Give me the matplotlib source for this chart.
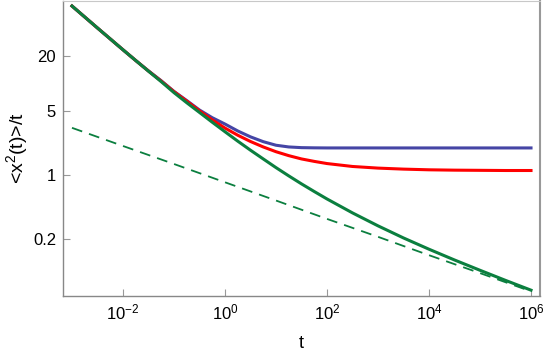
import numpy as np
import matplotlib
matplotlib.use("Agg")
import matplotlib.pyplot as plt
from matplotlib.ticker import FixedLocator, NullLocator, FixedFormatter

plt.rcParams['font.family'] = ['Liberation Sans', 'DejaVu Sans']
plt.rcParams['mathtext.fontset'] = 'custom'
plt.rcParams['mathtext.rm'] = 'Liberation Sans'
plt.rcParams['mathtext.it'] = 'Liberation Sans:italic'

# time points (log10 t)
log_t = [-3, -2.5, -2, -1.75, -1.5, -1.25, -1, -0.75, -0.5, -0.25, 0, 0.25, 0.5,
         0.75, 1, 1.25, 1.5, 1.75, 2, 2.5, 3, 3.5, 4, 4.5, 5, 5.5, 6]

green = [71.3, 40.9, 23.6, 18.0, 13.75, 10.55, 8.0, 6.2, 4.85, 3.79, 2.98, 2.35, 1.87,
         1.50, 1.205, 0.978, 0.799, 0.659, 0.546, 0.384, 0.277, 0.204, 0.1535, 0.117,
         0.0902, 0.0699, 0.0546]
red = [71.3, 40.9, 23.6, 18.0, 13.8, 10.7, 8.2, 6.45, 5.05, 4.02, 3.27, 2.73, 2.33,
       2.03, 1.80, 1.63, 1.50, 1.41, 1.335, 1.24, 1.19, 1.16, 1.14, 1.13, 1.125, 1.12, 1.12]
blue = [71.3, 40.9, 23.6, 18.0, 13.85, 10.8, 8.25, 6.55, 5.16, 4.25, 3.62, 3.04, 2.62,
        2.32, 2.12, 2.03, 1.995, 1.985, 1.98, 1.98, 1.98, 1.98, 1.98, 1.98, 1.98, 1.98, 1.98]

# asymptote (dashed)
log_t_dash = [-3, -2, -1, 0, 1, 2, 3, 4, 5, 6]
dashed = [3.29, 2.08, 1.32, 0.832, 0.525, 0.33, 0.21, 0.132, 0.084, 0.053]

x_ticks = [1e-2, 1e0, 1e2, 1e4, 1e6]
x_labels = [r"$10^{-2}$", r"$10^{0}$", r"$10^{2}$", r"$10^{4}$", r"$10^{6}$"]
y_ticks = [0.2, 1, 5, 20]
y_labels = ["0.2", "1", "5", "20"]

t = 10.0 ** np.array(log_t)
t_dash = 10.0 ** np.array(log_t_dash)

fig = plt.figure(figsize=(5.45, 3.54), dpi=100)
ax = fig.add_axes([0.1156, 0.1638, 0.8752, 0.8334])

c_green = "#0b7f3f"
c_blue = "#4545a5"
c_red = "#ff0000"

ax.plot(t, blue, color=c_blue, lw=2.2, solid_joinstyle="round")
ax.plot(t, red, color=c_red, lw=2.2, solid_joinstyle="round")
ax.plot(t_dash, dashed, color=c_green, lw=1.3, dashes=(6, 4))
ax.plot(t, green, color=c_green, lw=2.2, solid_joinstyle="round")

ax.set_xscale("log")
ax.set_yscale("log")
ax.set_xlim(10 ** -3.176, 10 ** 6.176)
ax.set_ylim(0.0471, 80.9)

ax.xaxis.set_major_locator(FixedLocator(x_ticks))
ax.xaxis.set_major_formatter(FixedFormatter(x_labels))
ax.xaxis.set_minor_locator(NullLocator())
ax.yaxis.set_major_locator(FixedLocator(y_ticks))
ax.yaxis.set_major_formatter(FixedFormatter(y_labels))
ax.yaxis.set_minor_locator(NullLocator())

ax.tick_params(direction="in", length=5, width=0.8, color="#999999",
               labelsize=12, pad=5)

for side in ["left", "bottom"]:
    ax.spines[side].set_color("#888888")
    ax.spines[side].set_linewidth(1.0)
ax.spines["top"].set_color("#c8c8c8")
ax.spines["right"].set_color("#999999")
ax.spines["right"].set_linewidth(1.5)

ax.set_xlabel("t", fontsize=13, labelpad=9)
ax.set_ylabel(r"<x$^{\mathrm{2}}$(t)>/t", fontsize=14, labelpad=2)

fig.savefig("out.png", dpi=100)
